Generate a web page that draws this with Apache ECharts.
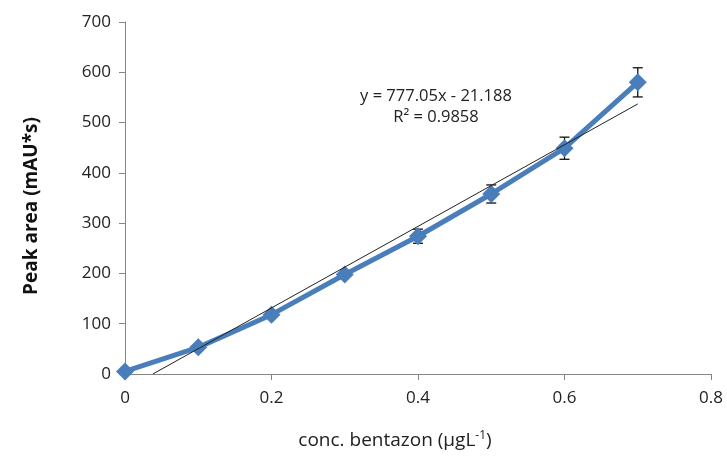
<!DOCTYPE html>
<html>
<head>
<meta charset="UTF-8">
<title>bentazon calibration</title>
<script src="https://cdn.jsdelivr.net/npm/echarts@6/dist/echarts.min.js"></script>
<style>
html, body { margin: 0; padding: 0; background: #fff; }
#chart { width: 727px; height: 459px; }
</style>
</head>
<body>
<div id="chart"></div>
<script>
// data
var conc = [0, 0.1, 0.2, 0.3, 0.4, 0.5, 0.6, 0.7];
var area = [5, 53, 118, 198, 274, 358, 449, 580];
var errs = [0, 0, 3, 5, 14, 18, 22, 29];
// trend line ends as drawn
var trendX = [0.038, 0.7];
var trendY = [0, 537];
var eqText = 'y = 777.05x - 21.188';
var r2Text = 'R² = 0.9858';

var font = '"Open Sans", "Liberation Sans", sans-serif';

var chart = echarts.init(document.getElementById('chart'));

var points = conc.map(function (x, i) { return [x, area[i]]; });
var errData = conc.map(function (x, i) { return [x, area[i] - errs[i], area[i] + errs[i]]; });
var trend = trendX.map(function (x, i) { return [x, trendY[i]]; });

chart.setOption({
  animation: false,
  grid: { left: 125, right: 16, top: 22, bottom: 85 },
  xAxis: {
    type: 'value',
    min: 0, max: 0.8, interval: 0.2,
    name: '{a|conc. bentazon (μgL}{s|-1}{a|)}',
    nameLocation: 'middle',
    nameGap: 56,
    nameTextStyle: {
      padding: [0, 46, 0, 0],
      rich: {
        a: { fontFamily: font, fontSize: 19, color: '#222' },
        s: { fontFamily: font, fontSize: 12, color: '#222', verticalAlign: 'top', padding: [0, 0, 9, 0] }
      }
    },
    axisLine: { lineStyle: { color: '#868686', width: 1 } },
    axisTick: { show: true, length: 6, inside: false, lineStyle: { color: '#868686' } },
    axisLabel: { fontFamily: font, fontSize: 17, color: '#222', margin: 16 },
    splitLine: { show: false }
  },
  yAxis: {
    type: 'value',
    min: 0, max: 700, interval: 100,
    name: 'Peak area (mAU*s)',
    nameLocation: 'middle',
    nameGap: 84,
    nameTextStyle: { fontFamily: font, fontSize: 19, fontWeight: 'bold', color: '#111', padding: [0, 16, 0, 0] },
    axisLine: { show: true, lineStyle: { color: '#868686', width: 1 } },
    axisTick: { show: true, length: 6, lineStyle: { color: '#868686' } },
    axisLabel: { fontFamily: font, fontSize: 17, color: '#222', margin: 14 },
    splitLine: { show: false }
  },
  graphic: [
    {
      type: 'text', x: 436, y: 86,
      style: { text: eqText + '\n' + r2Text, fontFamily: font, fontSize: 16.5, fill: '#222', align: 'center', lineHeight: 21 }
    }
  ],
  series: [
    {
      type: 'custom',
      data: errData,
      z: 1,
      renderItem: function (params, api) {
        if (api.value(2) - api.value(1) <= 0) return;
        var lo = api.coord([api.value(0), api.value(1)]);
        var hi = api.coord([api.value(0), api.value(2)]);
        var w = 5;
        var st = { stroke: '#111', lineWidth: 1.3 };
        return {
          type: 'group',
          children: [
            { type: 'line', shape: { x1: hi[0], y1: hi[1], x2: lo[0], y2: lo[1] }, style: st },
            { type: 'line', shape: { x1: hi[0] - w, y1: hi[1], x2: hi[0] + w, y2: hi[1] }, style: st },
            { type: 'line', shape: { x1: lo[0] - w, y1: lo[1], x2: lo[0] + w, y2: lo[1] }, style: st }
          ]
        };
      }
    },
    {
      type: 'line',
      data: points,
      symbol: 'diamond',
      symbolSize: 18,
      itemStyle: { color: '#4a7ebb' },
      lineStyle: { color: '#4a7ebb', width: 5 },
      z: 2
    },
    {
      type: 'line',
      data: trend,
      showSymbol: false,
      lineStyle: { color: '#222', width: 1 },
      z: 3
    }
  ]
});
</script>
</body>
</html>
